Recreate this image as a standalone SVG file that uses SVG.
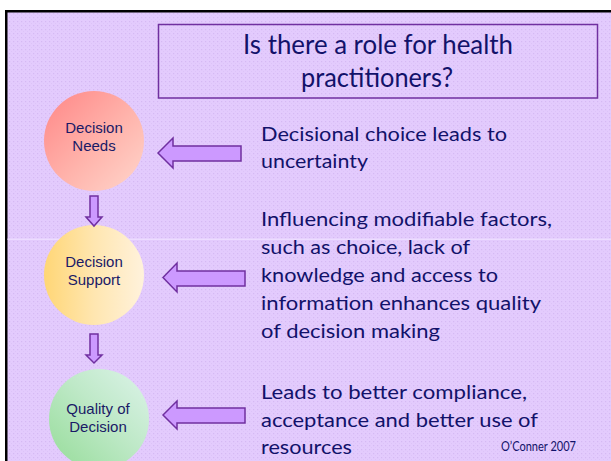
<svg xmlns="http://www.w3.org/2000/svg" width="611" height="461" viewBox="0 0 611 461">
  <style>
    .title { font-family: Lato, "Open Sans", "Liberation Sans", sans-serif; font-size: 27px; fill: #12126a; }
    .body { font-family: Lato, "Open Sans", "Liberation Sans", sans-serif; font-size: 19.5px; fill: #12126a; }
    .note { font-family: Lato, "Open Sans", "Liberation Sans", sans-serif; font-size: 13px; fill: #12126a; }
    .node-label { font-family: "Liberation Sans", Arial, sans-serif; font-size: 15px; fill: #1a1a66; text-anchor: middle; }
    .block-arrow { fill: #cc99ff; stroke: #7030a0; stroke-width: 1.5; stroke-linejoin: miter; }
  </style>
  <defs>
    <pattern id="dots" width="4" height="4" patternUnits="userSpaceOnUse">
      <rect width="4" height="4" fill="#e3cbfd"/>
      <rect x="1" y="1" width="1.2" height="1.2" fill="#d5b9f3"/>
      <rect x="3" y="3" width="1" height="1" fill="#dcc3f8"/>
    </pattern>
    <linearGradient id="gNeeds" x1="0" y1="0" x2="1" y2="1">
      <stop offset="0" stop-color="#ff8686"/>
      <stop offset="0.55" stop-color="#ffb4ac"/>
      <stop offset="1" stop-color="#ffd6cc"/>
    </linearGradient>
    <linearGradient id="gSupport" x1="0" y1="0" x2="1" y2="0">
      <stop offset="0" stop-color="#ffd676"/>
      <stop offset="0.5" stop-color="#ffe6b0"/>
      <stop offset="1" stop-color="#fff2dc"/>
    </linearGradient>
    <linearGradient id="gQuality" x1="0" y1="1" x2="1" y2="0">
      <stop offset="0" stop-color="#95dc98"/>
      <stop offset="0.55" stop-color="#bfe9c8"/>
      <stop offset="1" stop-color="#ddf3ea"/>
    </linearGradient>
  </defs>

  <!-- page and slide frame -->
  <rect x="0" y="0" width="611" height="461" fill="#ffffff"/>
  <rect x="5" y="10" width="606" height="451" fill="#000000"/>
  <rect x="7.5" y="12.5" width="603.5" height="448.5" fill="url(#dots)"/>
  <rect x="7.5" y="238.5" width="603.5" height="1.5" fill="#ecdcff"/>

  <!-- title -->
  <g id="title">
    <rect x="158.5" y="24.5" width="439" height="73.5" fill="none" stroke="#7030a0" stroke-width="1.5"/>
    <text class="title" x="378" y="54" text-anchor="middle" textLength="270" lengthAdjust="spacingAndGlyphs">Is there a role for health</text>
    <text class="title" x="377" y="87" text-anchor="middle" textLength="152" lengthAdjust="spacingAndGlyphs">practitioners?</text>
  </g>

  <!-- nodes -->
  <g id="node-decision-needs">
    <circle cx="94" cy="141" r="50" fill="url(#gNeeds)"/>
    <text class="node-label" x="94" y="133">Decision</text>
    <text class="node-label" x="94" y="151">Needs</text>
  </g>
  <g id="node-decision-support">
    <circle cx="94" cy="275" r="50" fill="url(#gSupport)"/>
    <text class="node-label" x="94" y="267">Decision</text>
    <text class="node-label" x="94" y="285">Support</text>
  </g>
  <g id="node-quality">
    <circle cx="99" cy="419" r="50" fill="url(#gQuality)"/>
    <text class="node-label" x="98" y="414">Quality of</text>
    <text class="node-label" x="98" y="432">Decision</text>
  </g>

  <!-- connectors (block arrows) -->
  <g id="connectors">
    <polygon class="block-arrow" points="90,196 98,196 98,217 102,217 94,226 86,217 90,217"/>
    <polygon class="block-arrow" points="90,334 98,334 98,355 102,355 94,363 86,355 90,355"/>
    <polygon class="block-arrow" points="158,153 173,138 173,146 241,146 241,161 173,161 173,168"/>
    <polygon class="block-arrow" points="163,277.5 177,263 177,271 245,271 245,286 177,286 177,292"/>
    <polygon class="block-arrow" points="163,415 177,401 177,408 245,408 245,423 177,423 177,429"/>
  </g>

  <!-- descriptions -->
  <g id="text-needs">
    <text class="body" x="261" y="141" textLength="246" lengthAdjust="spacingAndGlyphs">Decisional choice leads to</text>
    <text class="body" x="261" y="168" textLength="107" lengthAdjust="spacingAndGlyphs">uncertainty</text>
  </g>
  <g id="text-support">
    <text class="body" x="261" y="226" textLength="291" lengthAdjust="spacingAndGlyphs">Influencing modifiable factors,</text>
    <text class="body" x="261" y="254" textLength="209" lengthAdjust="spacingAndGlyphs">such as choice, lack of</text>
    <text class="body" x="261" y="282" textLength="237" lengthAdjust="spacingAndGlyphs">knowledge and access to</text>
    <text class="body" x="261" y="310" textLength="280" lengthAdjust="spacingAndGlyphs">information enhances quality</text>
    <text class="body" x="261" y="338" textLength="179" lengthAdjust="spacingAndGlyphs">of decision making</text>
  </g>
  <g id="text-quality">
    <text class="body" x="261" y="399" textLength="266" lengthAdjust="spacingAndGlyphs">Leads to better compliance,</text>
    <text class="body" x="261" y="427" textLength="277" lengthAdjust="spacingAndGlyphs">acceptance and better use of</text>
    <text class="body" x="261" y="454" textLength="91" lengthAdjust="spacingAndGlyphs">resources</text>
  </g>
  <text class="note" x="501" y="451" textLength="75" lengthAdjust="spacingAndGlyphs">O’Conner 2007</text>
</svg>
